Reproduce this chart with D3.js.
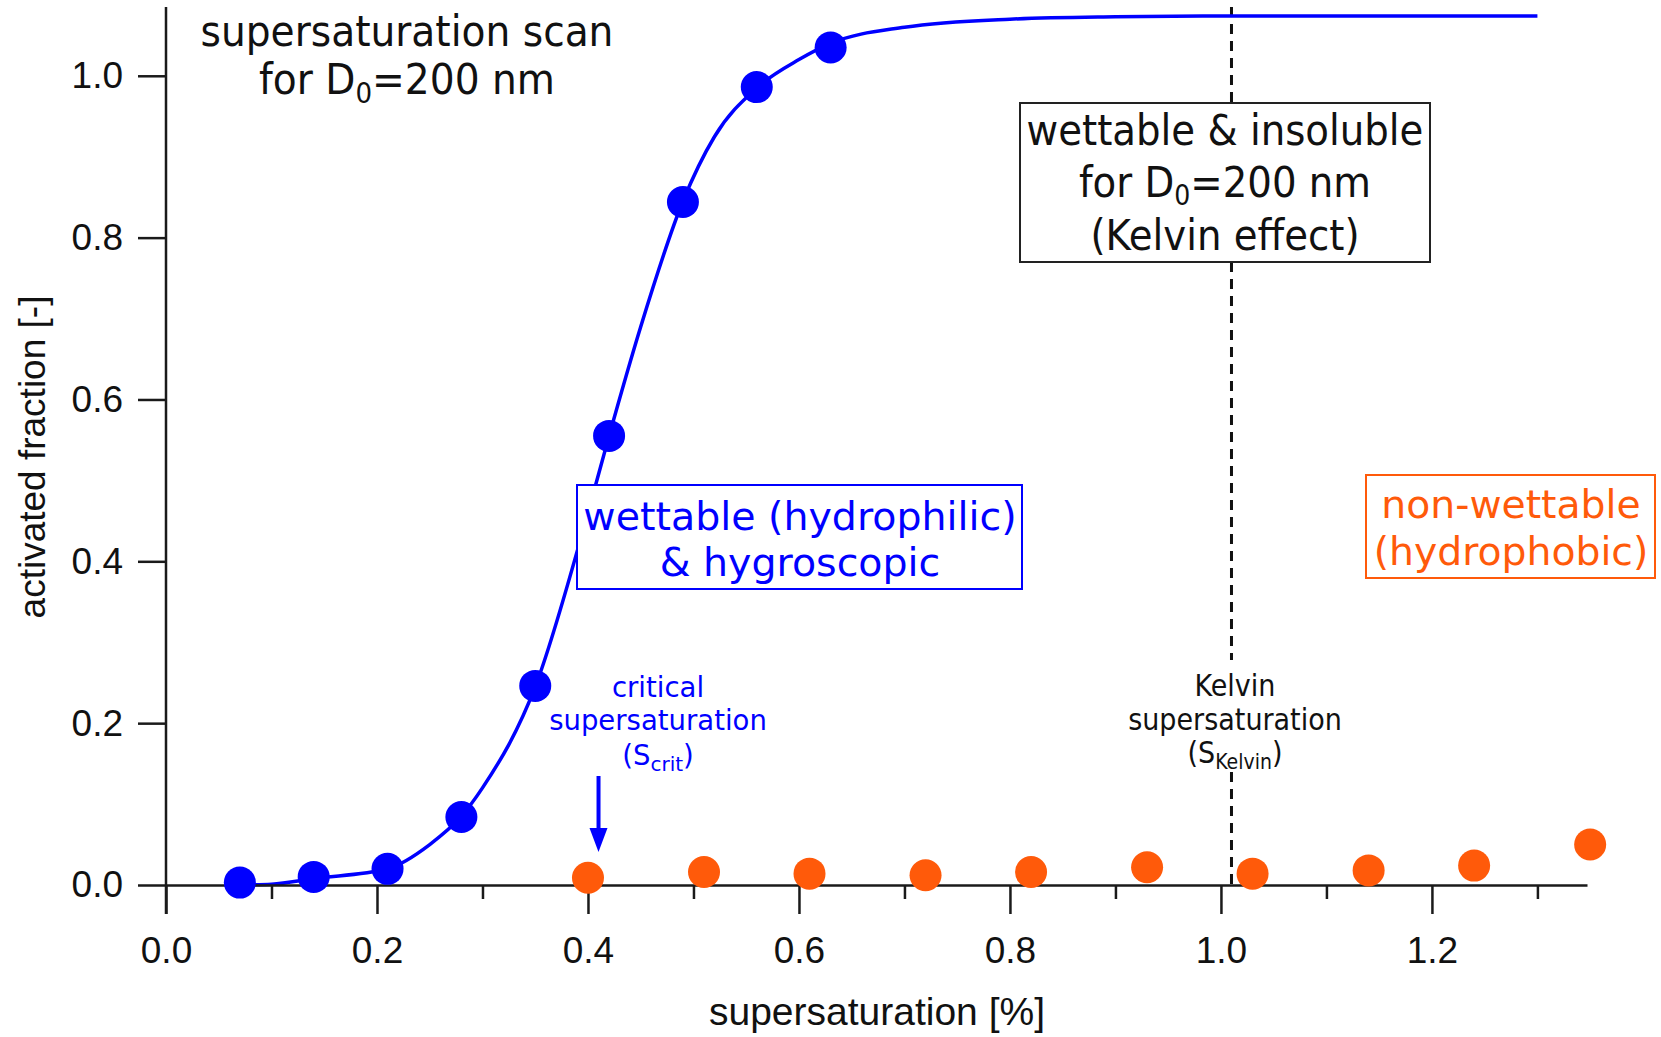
<!DOCTYPE html>
<html><head><meta charset="utf-8">
<script src="https://cdn.jsdelivr.net/npm/d3@7"></script>
<style>
html,body{margin:0;padding:0;background:#fff;}
svg{display:block;}
</style></head>
<body>
<svg id="chart" width="1661" height="1037"></svg>
<script>
// ---- data ----
const wettableX = [0.07, 0.14, 0.21, 0.28, 0.35, 0.42, 0.49, 0.56, 0.63];
const wettableY = [0.003, 0.010, 0.020, 0.084, 0.246, 0.555, 0.844, 0.986, 1.035];
const nonWettableX = [0.40, 0.51, 0.61, 0.72, 0.82, 0.93, 1.03, 1.14, 1.24, 1.35];
const nonWettableY = [0.009, 0.016, 0.014, 0.012, 0.016, 0.022, 0.014, 0.018, 0.024, 0.050];
const fitX = [0.07, 0.10, 0.14, 0.21, 0.25, 0.28, 0.30, 0.35, 0.40, 0.42, 0.45, 0.49, 0.52, 0.56, 0.60, 0.63, 0.70, 0.80, 0.90, 1.00, 1.30];
const fitY = [0.000, 0.001, 0.008, 0.020, 0.050, 0.085, 0.120, 0.245, 0.460, 0.555, 0.690, 0.845, 0.925, 0.985, 1.020, 1.040, 1.060, 1.070, 1.073, 1.074, 1.074];
const xMajorTicks = [0.0, 0.2, 0.4, 0.6, 0.8, 1.0, 1.2];
const xMinorTicks = [0.1, 0.3, 0.5, 0.7, 0.9, 1.1, 1.3];
const yTicks = [0.0, 0.2, 0.4, 0.6, 0.8, 1.0];
const sCrit = 0.41;
const sKelvin = 1.01;

const BLUE = "#0000ff";
const ORANGE = "#ff5a0a";
const AXIS = "#1a1a1a";

const svg = d3.select("#chart");
const x = d3.scaleLinear().domain([0, 1.347]).range([166, 1587]);
const y = d3.scaleLinear().domain([0, 1.085]).range([885, 7]);

const tickFont = "'Liberation Sans', Arial, sans-serif";
const condFont = "'DejaVu Sans Condensed', 'DejaVu Sans', sans-serif";
const verdFont = "'DejaVu Sans', Verdana, sans-serif";

// helper: a line of text with a subscript, centred as a whole at cx
function subLine(parent, cx, yy, size, subSize, shift, pre, sub, post, color, family) {
  const t = parent.append("text").attr("font-family", family).attr("font-size", size)
    .attr("fill", color).attr("y", yy);
  t.append("tspan").text(pre);
  t.append("tspan").attr("font-size", subSize).attr("dy", shift).text(sub);
  t.append("tspan").attr("dy", -shift).text(post);
  const w = t.node().getComputedTextLength();
  t.attr("x", cx - w / 2);
  return t;
}

// ---- Kelvin dashed line ----
svg.append("line")
  .attr("x1", x(sKelvin)).attr("x2", x(sKelvin))
  .attr("y1", y(1.085)).attr("y2", y(0))
  .attr("stroke", "#111").attr("stroke-width", 3)
  .attr("stroke-dasharray", "10,7");

// ---- fit curve ----
const fit = fitX.map((d, i) => [d, fitY[i]]);
svg.append("path")
  .datum(fit)
  .attr("fill", "none")
  .attr("stroke", BLUE)
  .attr("stroke-width", 3.5)
  .attr("d", d3.line().x(d => x(d[0])).y(d => y(d[1])).curve(d3.curveMonotoneX));

// ---- axes ----
const xMajor = d3.axisBottom(x).tickValues(xMajorTicks).tickSize(29).tickSizeOuter(0)
  .tickPadding(23).tickFormat(d3.format(".1f"));
const gx = svg.append("g").attr("transform", `translate(0,${y(0)})`).call(xMajor);
const xMinor = d3.axisBottom(x).tickValues(xMinorTicks).tickSize(14).tickSizeOuter(0).tickFormat("");
const gx2 = svg.append("g").attr("transform", `translate(0,${y(0)})`).call(xMinor);
gx2.select(".domain").remove();

const yAx = d3.axisLeft(y).tickValues(yTicks).tickSize(28).tickSizeOuter(0)
  .tickPadding(15).tickFormat(d3.format(".1f"));
const gy = svg.append("g").attr("transform", `translate(${x(0)},0)`).call(yAx);
gy.select(".domain").remove();
svg.append("line")
  .attr("x1", x(0)).attr("x2", x(0))
  .attr("y1", y(1.085)).attr("y2", y(0) + 29)
  .attr("stroke", AXIS).attr("stroke-width", 2.5);

[gx, gx2, gy].forEach(g => {
  g.selectAll(".domain").attr("stroke", AXIS).attr("stroke-width", 2.5);
  g.selectAll(".tick line").attr("stroke", AXIS).attr("stroke-width", 2.5);
  g.selectAll(".tick text").attr("fill", "#111").attr("font-family", tickFont).attr("font-size", 37);
});

// axis titles
svg.append("text")
  .attr("x", 877).attr("y", 1025)
  .attr("text-anchor", "middle")
  .attr("font-family", tickFont).attr("font-size", 39).attr("fill", "#111")
  .text("supersaturation [%]");
svg.append("text")
  .attr("transform", "translate(45,457) rotate(-90)")
  .attr("text-anchor", "middle")
  .attr("font-family", tickFont).attr("font-size", 37).attr("fill", "#111")
  .text("activated fraction [-]");

// ---- blue box (wettable & hygroscopic) ----
svg.append("rect").attr("x", 577).attr("y", 485).attr("width", 445).attr("height", 104)
  .attr("fill", "#fff").attr("stroke", BLUE).attr("stroke-width", 2);
const bt = svg.append("text").attr("text-anchor", "middle")
  .attr("font-family", verdFont).attr("font-size", 39.5).attr("fill", BLUE);
bt.append("tspan").attr("x", 800).attr("y", 530).text("wettable (hydrophilic)");
bt.append("tspan").attr("x", 800).attr("y", 576).text("& hygroscopic");

// ---- orange box ----
svg.append("rect").attr("x", 1366).attr("y", 475).attr("width", 289).attr("height", 103)
  .attr("fill", "#fff").attr("stroke", ORANGE).attr("stroke-width", 2);
const ot = svg.append("text").attr("text-anchor", "middle")
  .attr("font-family", verdFont).attr("font-size", 39.3).attr("fill", ORANGE);
ot.append("tspan").attr("x", 1511).attr("y", 518).text("non-wettable");
ot.append("tspan").attr("x", 1511).attr("y", 565).text("(hydrophobic)");

// ---- black box (Kelvin effect) ----
svg.append("rect").attr("x", 1020).attr("y", 103).attr("width", 410).attr("height", 159)
  .attr("fill", "#fff").attr("stroke", "#222").attr("stroke-width", 2);
svg.append("text").attr("text-anchor", "middle")
  .attr("font-family", condFont).attr("font-size", 43).attr("fill", "#111")
  .attr("x", 1225).attr("y", 145).text("wettable & insoluble");
subLine(svg, 1225, 197, 43, 28, 8, "for D", "0", "=200 nm", "#111", condFont);
svg.append("text").attr("text-anchor", "middle")
  .attr("font-family", condFont).attr("font-size", 43).attr("fill", "#111")
  .attr("x", 1225).attr("y", 250).text("(Kelvin effect)");

// ---- top-left title ----
svg.append("text").attr("text-anchor", "middle")
  .attr("font-family", condFont).attr("font-size", 43.5).attr("fill", "#111")
  .attr("x", 407).attr("y", 46).text("supersaturation scan");
subLine(svg, 407, 94, 43.5, 29, 9, "for D", "0", "=200 nm", "#111", condFont);

// ---- Kelvin supersaturation label ----
svg.append("rect").attr("x", 1115).attr("y", 660).attr("width", 240).attr("height", 112).attr("fill", "#fff");
svg.append("text").attr("font-family", condFont).attr("font-size", 30).attr("fill", "#111")
  .attr("text-anchor", "middle").attr("x", 1235).attr("y", 696).text("Kelvin");
svg.append("text").attr("font-family", condFont).attr("font-size", 30).attr("fill", "#111")
  .attr("text-anchor", "middle").attr("x", 1235).attr("y", 730).text("supersaturation");
subLine(svg, 1235, 763, 30, 21, 6, "(S", "Kelvin", ")", "#111", condFont);

// ---- critical supersaturation label ----
svg.append("text").attr("font-family", verdFont).attr("font-size", 27.5).attr("fill", BLUE)
  .attr("text-anchor", "middle").attr("x", 658).attr("y", 697).text("critical");
svg.append("text").attr("font-family", verdFont).attr("font-size", 27.5).attr("fill", BLUE)
  .attr("text-anchor", "middle").attr("x", 658).attr("y", 730).text("supersaturation");
subLine(svg, 658, 765, 27.5, 20, 6, "(S", "crit", ")", BLUE, verdFont);

// arrow for S_crit
svg.append("line").attr("x1", x(sCrit)).attr("x2", x(sCrit))
  .attr("y1", 776).attr("y2", 832).attr("stroke", BLUE).attr("stroke-width", 4);
svg.append("path")
  .attr("d", `M${x(sCrit)-9},828 L${x(sCrit)+9},828 L${x(sCrit)},852 Z`)
  .attr("fill", BLUE);

// ---- points ----
svg.append("g").selectAll("circle").data(wettableX).join("circle")
  .attr("cx", d => x(d)).attr("cy", (d, i) => y(wettableY[i]))
  .attr("r", 16).attr("fill", BLUE);
svg.append("g").selectAll("circle").data(nonWettableX).join("circle")
  .attr("cx", d => x(d)).attr("cy", (d, i) => y(nonWettableY[i]))
  .attr("r", 16).attr("fill", ORANGE);
</script>
</body></html>
